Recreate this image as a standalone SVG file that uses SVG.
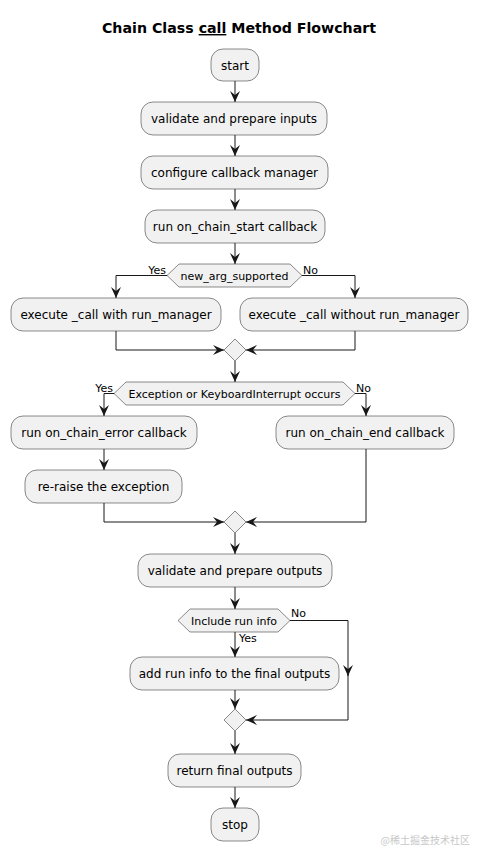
<svg xmlns="http://www.w3.org/2000/svg" width="478" height="852" viewBox="0 0 478 852">
<defs>
<style>
.box{fill:#F1F1F1;stroke:#181818;stroke-width:0.5}
.t{font-family:"DejaVu Sans",sans-serif;font-size:12px;fill:#000;text-anchor:middle}
.d{font-family:"DejaVu Sans",sans-serif;font-size:11px;fill:#000;text-anchor:middle}
.lbl{font-family:"DejaVu Sans",sans-serif;font-size:11px;fill:#000}
.c{fill:none;stroke:#181818;stroke-width:1;marker-end:url(#ah)}
</style>
<marker id="ah" markerUnits="userSpaceOnUse" markerWidth="11" markerHeight="10" refX="11" refY="5" orient="auto" viewBox="0 0 11 10">
<path d="M0,0 L11,5 L0,10 L4,5 Z" fill="#181818"/>
</marker>
</defs>
<rect width="478" height="852" fill="#FFFFFF"/>
<text x="239" y="33" font-family="DejaVu Sans,sans-serif" font-size="14.2" font-weight="bold" text-anchor="middle">Chain Class <tspan text-decoration="underline">call</tspan> Method Flowchart</text>

<g id="connectors">
<path class="c" d="M235,81 V102"/>
<path class="c" d="M235,135 V156"/>
<path class="c" d="M235,189 V210"/>
<path class="c" d="M235,243 V264"/>
<path class="c" d="M167,275.5 H116 V298"/>
<path class="c" d="M302,275.5 H355 V298"/>
<path class="c" d="M116,331 V350 H224"/>
<path class="c" d="M355,331 V350 H246"/>
<path class="c" d="M235,361 V382"/>
<path class="c" d="M114,393.5 H104 V416"/>
<path class="c" d="M355,393.5 H366 V416"/>
<path class="c" d="M104,449 V470"/>
<path class="c" d="M104,503 V522 H224"/>
<path class="c" d="M366,449 V522 H246"/>
<path class="c" d="M235,533 V554"/>
<path class="c" d="M235,587 V609"/>
<path class="c" d="M235,632 V657"/>
<path class="c" d="M290,620.5 H348 V676"/>
<path class="c" d="M348,674 V720 H246"/>
<path class="c" d="M235,690 V709"/>
<path class="c" d="M235,731 V754"/>
<path class="c" d="M235,787 V808"/>
<text class="lbl" x="166" y="274" text-anchor="end">Yes</text>
<text class="lbl" x="303" y="274">No</text>
<text class="lbl" x="113" y="392" text-anchor="end">Yes</text>
<text class="lbl" x="356" y="392">No</text>
<text class="lbl" x="239" y="642">Yes</text>
<text class="lbl" x="291" y="617">No</text>
</g>

<g id="start"><rect class="box" x="211" y="49" width="48" height="32" rx="12"/><text class="t" x="235" y="69.5">start</text></g>
<g id="validate_inputs"><rect class="box" x="141" y="102" width="186" height="33" rx="12"/><text class="t" x="234" y="123">validate and prepare inputs</text></g>
<g id="configure_cb"><rect class="box" x="141" y="156" width="187" height="33" rx="12"/><text class="t" x="234.5" y="177">configure callback manager</text></g>
<g id="on_chain_start"><rect class="box" x="145" y="210" width="180" height="33" rx="12"/><text class="t" x="235" y="231">run on_chain_start callback</text></g>
<g id="dec_new_arg"><polygon class="box" points="167,275.5 179,264 290,264 302,275.5 290,287 179,287"/><text class="d" x="234.5" y="279.5">new_arg_supported</text></g>
<g id="exec_with"><rect class="box" x="11" y="298" width="210" height="33" rx="12"/><text class="t" x="116" y="319">execute _call with run_manager</text></g>
<g id="exec_without"><rect class="box" x="240" y="298" width="228" height="33" rx="12"/><text class="t" x="354" y="319">execute _call without run_manager</text></g>
<g id="merge1"><polygon class="box" points="235,339 246,350 235,361 224,350"/></g>
<g id="dec_exception"><polygon class="box" points="114,393.5 126,382 343,382 355,393.5 343,405 126,405"/><text class="d" x="234.5" y="397.5">Exception or KeyboardInterrupt occurs</text></g>
<g id="on_chain_error"><rect class="box" x="11" y="416" width="186" height="33" rx="12"/><text class="t" x="104" y="437">run on_chain_error callback</text></g>
<g id="on_chain_end"><rect class="box" x="276" y="416" width="178" height="33" rx="12"/><text class="t" x="365" y="437">run on_chain_end callback</text></g>
<g id="reraise"><rect class="box" x="25" y="470" width="157" height="33" rx="12"/><text class="t" x="103.5" y="491">re-raise the exception</text></g>
<g id="merge2"><polygon class="box" points="235,511 246,522 235,533 224,522"/></g>
<g id="validate_outputs"><rect class="box" x="138" y="554" width="194" height="33" rx="12"/><text class="t" x="235" y="575">validate and prepare outputs</text></g>
<g id="dec_run_info"><polygon class="box" points="178,620.5 190,609 278,609 290,620.5 278,632 190,632"/><text class="d" x="234" y="624.5">Include run info</text></g>
<g id="add_run_info"><rect class="box" x="130" y="657" width="209" height="33" rx="12"/><text class="t" x="234.5" y="678">add run info to the final outputs</text></g>
<g id="merge3"><polygon class="box" points="235,709 246,720 235,731 224,720"/></g>
<g id="return_outputs"><rect class="box" x="168" y="754" width="133" height="33" rx="12"/><text class="t" x="234.5" y="775">return final outputs</text></g>
<g id="stop"><rect class="box" x="211" y="808" width="48" height="33" rx="12"/><text class="t" x="235" y="829">stop</text></g>

<text x="470" y="844" font-family="Noto Sans CJK SC,sans-serif" font-size="10" fill="#C8C8C8" text-anchor="end">@稀土掘金技术社区</text>
</svg>
